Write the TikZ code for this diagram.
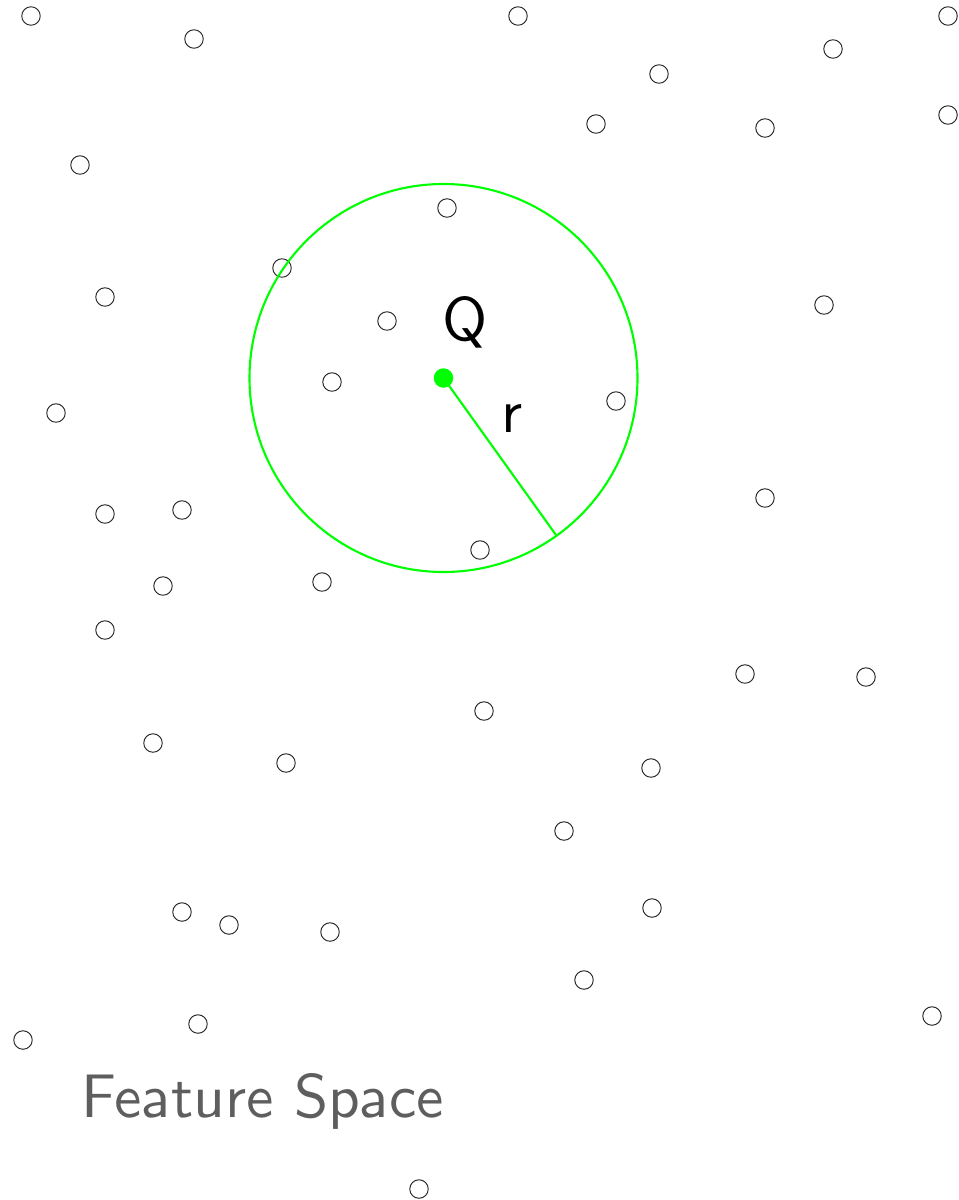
\documentclass[tikz,border=0pt]{standalone}
\usepackage{amsmath}
\usepackage{tikz}
\font\featfont=cmss10 at 35pt

\begin{document}
\begin{tikzpicture}[x=0.02cm,y=-0.02cm,
  pt/.style={circle,draw=black!85,line width=0.55pt,minimum size=0.37cm,inner sep=0pt},
  query/.style={circle,fill=green,minimum size=0.39cm,inner sep=0pt},
  reach/.style={green,line width=1.2pt},
  lbl/.style={inner sep=0pt,anchor=base,font=\featfont}]
  \useasboundingbox (0,0) rectangle (959,1200);
  % data points
  \foreach \px/\py [count=\i] in {31/16, 194/39, 518/16, 948/16, 833/49, 659/74, 596/124, 765/128,
      948/115, 80/165, 447/208, 282/268, 105/297, 824/305, 387/321, 332/382, 56/413, 616/401,
      765/498, 105/514, 182/510, 480/550, 163/586, 322/582, 105/630, 745/674, 866/677, 484/711,
      153/743, 286/763, 651/768, 564/831, 182/912, 229/925, 330/932, 652/908, 584/980,
      932/1016, 198/1024, 23/1040, 419/1189}
    \node[pt] (d\i) at (\px,\py) {};
  % query and its range
  \node[query] (q) at (443.5,378) {};
  \draw[reach] (q.center) circle (194);
  \coordinate (rim) at (556,535);
  \draw[reach] (q.center) -- (rim);
  \node[lbl] (qlabel) at (465,340) {Q};
  \node[lbl] (rlabel) at (512,432) {r};
  \node[lbl,anchor=base west,text=black!63] (title) at (81,1117) {Feature Space};
\end{tikzpicture}
\end{document}
